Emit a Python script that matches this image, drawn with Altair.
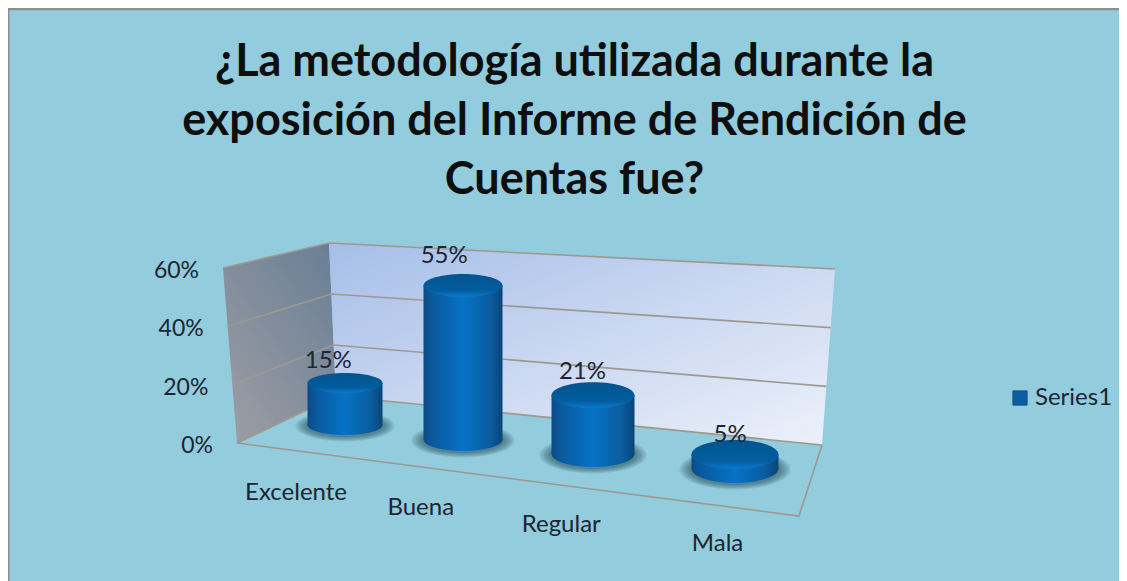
import altair as alt
import pandas as pd

# ---------- data ----------
categories = ["Excelente", "Buena", "Regular", "Mala"]
values = [15, 55, 21, 5]
axis_ticks = [0, 20, 40, 60]
series_name = "Series1"
title_lines = ["¿La metodología utilizada durante la",
               "exposición del Informe de Rendición de",
               "Cuentas fue?"]

# ---------- page geometry of the 3-D box (the projection) ----------
W, H = 1111, 573
FONT = "Lato"
A = (223, 268)   # left wall, front top
B = (237, 443)   # left wall, front bottom
C = (329, 243)   # corner, top
D = (336, 396)   # corner, bottom
E = (835, 269)   # back wall right, top
F = (822, 445)   # back wall right, bottom
G = (799, 516)   # floor, front right
YMAX = 60


def lerp(p, q, t):
    return (p[0] + (q[0] - p[0]) * t, p[1] + (q[1] - p[1]) * t)


def up(bottom, top, v):
    return lerp(bottom, top, v / YMAX)


def quad(points):
    xs_ = sorted({p[0] for p in points})
    n = len(points)
    rows = []
    for x in xs_:
        ys_ = []
        for i in range(n):
            p, q = points[i], points[(i + 1) % n]
            lo, hi = min(p[0], q[0]), max(p[0], q[0])
            if lo <= x <= hi:
                if p[0] == q[0]:
                    ys_ += [p[1], q[1]]
                else:
                    ys_.append(p[1] + (q[1] - p[1]) * (x - p[0]) / (q[0] - p[0]))
        rows.append({"x": x, "y": min(ys_), "y2": max(ys_)})
    return pd.DataFrame(rows)


xs = alt.Scale(domain=[8, 8 + W], range=[0, W], nice=False, zero=False)
ys = alt.Scale(domain=[8, 8 + H], range=[0, H], nice=False, zero=False)
X = lambda f="x": alt.X(f"{f}:Q", scale=xs, axis=None)
Y = lambda f="y": alt.Y(f"{f}:Q", scale=ys, axis=None)


def grad(stops, x1=0, y1=0, x2=1, y2=0):
    return alt.LinearGradient(
        gradient="linear", x1=x1, y1=y1, x2=x2, y2=y2,
        stops=[alt.GradientStop(offset=o, color=c) for o, c in stops])


# ---------- cylinders ----------
def ellipse(rx, ry):
    r = ry / rx
    return f"M-1,0A1,{r:.4f} 0 1 1 1,0A1,{r:.4f} 0 1 1 -1,0Z"


rows = []
for i, (c, v) in enumerate(zip(categories, values)):
    cx = 345 + 112 * i + 6 * i * i
    base = 425 + 14.5 * i
    w = 75 + 4 * i
    ry = 10 + 1.5 * i
    top = base - 2.8 * v
    rows.append(dict(cat=c, v=v, cx=cx, x0=cx - w / 2, x1=cx + w / 2, base=base, top=top,
                     w=w, ry=ry, size=w * w,
                     shape=ellipse(w / 2, ry),
                     label=f"{v}%", lx=cx - 14.6 + 3.5 * i - 0.14 * v, ly=top - 19 - 0.2 * v))
bars = pd.DataFrame(rows)
bars["series"] = series_name

body_grad = grad([(0, "#0B4A86"), (0.12, "#0A5A9E"), (0.5, "#0673C6"), (0.85, "#0A5C9E"), (1, "#0A4478")])
top_grad = grad([(0, "#01558F"), (0.72, "#025C9E"), (0.9, "#0870BE"), (1, "#0B78C8")], 0, 0, 0, 1)

layers = []

# background and frame
layers.append(alt.Chart(pd.DataFrame({"x": [8, 8 + W], "y": [8, 8], "y2": [8 + H, 8 + H]})).mark_area(
    fill="#92CCDD").encode(x=X(), y=Y(), y2=alt.Y2("y2:Q")))
layers.append(alt.Chart(pd.DataFrame({"x": [8, 8 + W], "y": [9, 9]})).mark_line(
    stroke="#8A8F92", strokeWidth=2.5).encode(x=X(), y=Y()))
layers.append(alt.Chart(pd.DataFrame({"x": [8.5, 8.5], "y": [8, 8 + H], "i": [0, 1]})).mark_line(
    stroke="#8A8F92", strokeWidth=2).encode(x=X(), y=Y(), order="i:Q"))

# walls
layers.append(alt.Chart(quad([A, C, D, B])).mark_area(
    fill=grad([(0, "#6A7F96"), (1, "#9C9DA3")], 0.9, 0, 0.1, 1)
).encode(x=X(), y=Y(), y2=alt.Y2("y2:Q")))
layers.append(alt.Chart(quad([C, E, F, D])).mark_area(
    fill=grad([(0, "#A6BEE8"), (1, "#EDF1FA")], 0, 0, 1, 1)
).encode(x=X(), y=Y(), y2=alt.Y2("y2:Q")))

# gridlines and outline of the box
segs = []
k = 0
for t in axis_ticks:
    for n, p in enumerate((up(B, A, t), up(D, C, t), up(F, E, t))):
        segs.append(dict(g=k, n=n, x=p[0], y=p[1]))
    k += 1
for n, p in enumerate((B, G, F)):
    segs.append(dict(g=k, n=n, x=p[0], y=p[1]))
k += 1
for n, p in enumerate((B, D)):
    segs.append(dict(g=k, n=n, x=p[0], y=p[1]))
layers.append(alt.Chart(pd.DataFrame(segs)).mark_line(stroke="#9D998F", strokeWidth=1.6).encode(
    x=X(), y=Y(), detail="g:N", order="n:Q"))

# shadows
for grow in [12, 10, 8, 6, 4, 2]:
    sh = bars.copy()
    sh["size"] = (sh["w"] + 2 * grow) ** 2
    sh["shape"] = [ellipse(w / 2 + grow, ry + grow * 0.45) for w, ry in zip(sh["w"], sh["ry"])]
    sh["sy"] = sh["base"] + 1
    layers.append(alt.Chart(sh).mark_point(filled=True, fill="#1D4656", opacity=0.12, strokeWidth=0).encode(
        x=X("cx"), y=Y("sy"),
        shape=alt.Shape("shape:N", scale=None), size=alt.Size("size:Q", scale=None)))

ptenc = dict(x=X("cx"), shape=alt.Shape("shape:N", scale=None), size=alt.Size("size:Q", scale=None))

# cylinder bodies
layers.append(alt.Chart(bars).mark_point(filled=True, fill=body_grad, opacity=1, strokeWidth=0).encode(
    y=Y("base"), **ptenc))
layers.append(alt.Chart(bars).mark_rect(fill=body_grad).encode(
    x=X("x0"), x2=alt.X2("x1:Q"), y=Y("top"), y2=alt.Y2("base:Q")))

# legend carrier (hidden beneath the caps)
layers.append(alt.Chart(bars).mark_point(filled=True, opacity=1, size=4).encode(
    x=X("cx"), y=Y("top"),
    color=alt.Color("series:N", scale=alt.Scale(domain=[series_name], range=["#0A5EA6"]),
                    legend=alt.Legend(orient="none", legendX=1000, legendY=378, title=None,
                                      symbolType="square", symbolSize=200, symbolOpacity=1,
                                      symbolStrokeColor="#12487E", symbolStrokeWidth=1,
                                      labelFont=FONT, labelFontSize=24, labelColor="#1C2530",
                                      labelOffset=3, labelLimit=200))))
layers.append(alt.Chart(bars).mark_point(filled=True, fill=top_grad, opacity=1, strokeWidth=0).encode(
    y=Y("top"), **ptenc))

# value labels
layers.append(alt.Chart(bars).mark_text(font=FONT, fontSize=24, color="#1C2530", baseline="middle").encode(
    x=X("lx"), y=Y("ly"), text="label:N"))

# y-axis labels, along the front edge of the left wall
tick_rows = []
for t in axis_ticks:
    p = up(B, A, t)
    tick_rows.append(dict(x=p[0] - 24, y=p[1] + 3, label=f"{t}%"))
layers.append(alt.Chart(pd.DataFrame(tick_rows)).mark_text(
    font=FONT, fontSize=23, color="#1C2530", align="right", baseline="middle").encode(
    x=X(), y=Y(), text="label:N"))

# category labels, along the front edge of the floor
cat_rows = []
for i, c in enumerate(categories):
    p = lerp(B, G, 0.105 + 0.208 * i + 0.014 * i * i)
    cat_rows.append(dict(x=p[0], y=p[1] + 42 - 1.3 * i, label=c))
layers.append(alt.Chart(pd.DataFrame(cat_rows)).mark_text(
    font=FONT, fontSize=24, color="#1C2530", baseline="middle").encode(
    x=X(), y=Y(), text="label:N"))

# highlight inside the legend swatch
layers.append(alt.Chart(pd.DataFrame({"x": [1019.5], "y": [396]})).mark_point(
    filled=True, shape="triangle-down", fill="#2E8FE6", opacity=1, size=50, strokeWidth=0).encode(x=X(), y=Y()))

chart = alt.layer(*layers).properties(
    width=W, height=H,
    padding=0,
    autosize=alt.AutoSizeParams(type="none"),
    background="white",
    title=alt.TitleParams(text=title_lines, font=FONT, fontSize=45, fontWeight="bold", color="#0E0E0E",
                          anchor="middle", lineHeight=59, dy=199, dx=11, offset=0),
).configure_view(stroke=None)

chart.save("out.html", embed_options={"renderer": "svg", "actions": False})
